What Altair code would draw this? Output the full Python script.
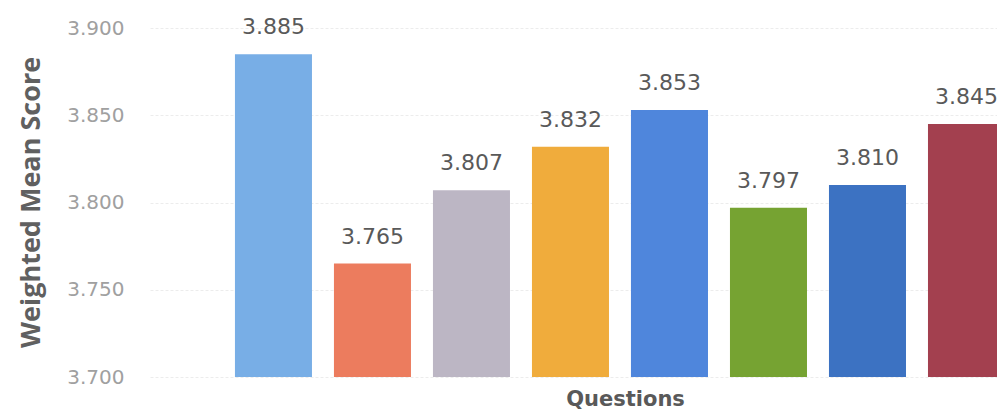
import altair as alt
import pandas as pd

questions = ["Q1", "Q2", "Q3", "Q4", "Q5", "Q6", "Q7", "Q8"]
scores = [3.885, 3.765, 3.807, 3.832, 3.853, 3.797, 3.810, 3.845]
labels = ["3.885", "3.765", "3.807", "3.832", "3.853", "3.797", "3.810", "3.845"]
colors = ["#78aee6", "#ec7c5e", "#bcb6c4", "#f0ac3c", "#4f86dc", "#76a332", "#3c72c2", "#a3404f"]
y_ticks = [3.70, 3.75, 3.80, 3.85, 3.90]

df = pd.DataFrame({"q": questions, "score": scores, "label": labels, "color": colors})

x_scale = alt.Scale(paddingInner=0.222, paddingOuter=0.429, align=1, range=[0, 855])

x_enc = alt.X(
    "q:N",
    sort=questions,
    scale=x_scale,
    axis=alt.Axis(
        title="Questions", labels=False, ticks=False, domain=False, grid=False,
        titleFont="DejaVu Sans", titleFontSize=21, titleFontWeight="bold",
        titleColor="#595959", titlePadding=11, titleX=475, titleAlign="center",
    ),
)

bars = alt.Chart(df).mark_bar(clip=True).encode(
    x=x_enc,
    y=alt.Y(
        "score:Q",
        scale=alt.Scale(domain=[3.7, 3.9], zero=False, nice=False),
        axis=alt.Axis(
            title="Weighted Mean Score", values=y_ticks, format=".3f",
            ticks=False, domain=False, grid=True, gridColor="#ececec",
            gridDash=[3, 2], gridWidth=1,
            labelFont="DejaVu Sans", labelFontSize=20, labelColor="#a0a0a0",
            labelPadding=26,
            titleFont="Open Sans", titleFontSize=27, titleFontWeight="bold",
            titleColor="#606060", titleAngle=270, titleAlign="center",
            titleBaseline="middle", titleX=-119, titleY=174,
        ),
    ),
    color=alt.Color("color:N", scale=None, legend=None),
)

text = alt.Chart(df).mark_text(
    baseline="alphabetic", dy=-20, font="DejaVu Sans", fontSize=22, color="#595959"
).encode(
    x=alt.X("q:N", sort=questions),
    y="score:Q",
    text="label:N",
)

chart = (bars + text).properties(
    width=847, height=349,
    autosize=alt.AutoSizeParams(type="none"),
    padding={"left": 142, "top": 20, "right": 0, "bottom": 33},
    background="white",
).configure_view(stroke=None)

chart.save("out.html", embed_options={"renderer": "svg", "actions": False})
